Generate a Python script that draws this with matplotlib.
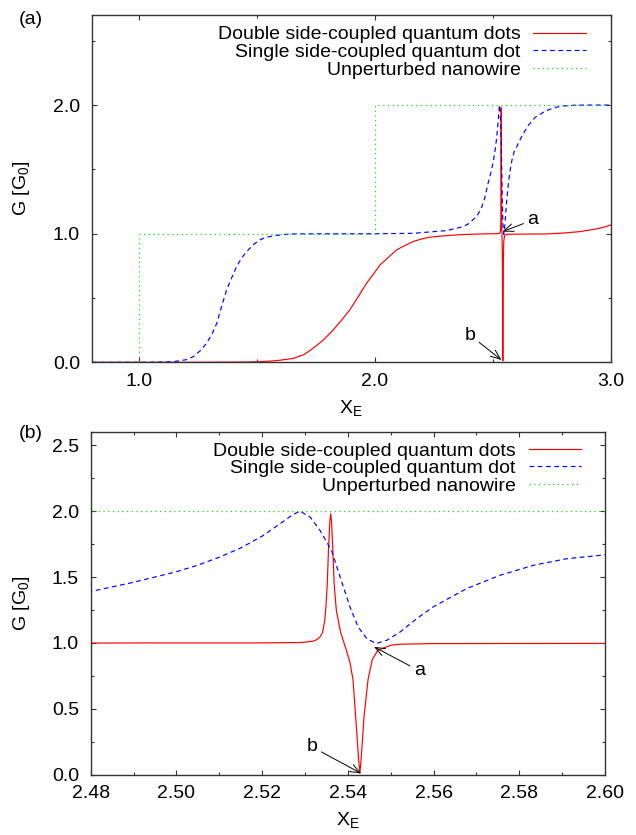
import matplotlib
matplotlib.use('Agg')
import matplotlib.pyplot as plt
from matplotlib.ticker import MultipleLocator, FormatStrFormatter

plt.rcParams['font.family'] = ['Liberation Sans', 'DejaVu Sans']
plt.rcParams['font.size'] = 14
plt.rcParams['mathtext.default'] = 'regular'

labels = ['Double side-coupled quantum dots',
          'Single side-coupled quantum dot',
          'Unperturbed nanowire']

# double side-coupled dots
double_x = [0.8, 1.20, 1.33, 1.45, 1.513, 1.58, 1.654, 1.70, 1.739, 1.78, 1.824, 1.86,
            1.894, 1.93, 1.965, 2.00, 2.022, 2.06, 2.092, 2.13, 2.163, 2.20, 2.233,
            2.304, 2.36, 2.417, 2.48, 2.50, 2.52, 2.5288, 2.5300, 2.5319, 2.5328,
            2.5335, 2.5341, 2.5346, 2.5349, 2.5352, 2.5355, 2.5358, 2.5360, 2.5362,
            2.5365, 2.5368, 2.5373, 2.5383, 2.5395, 2.5405, 2.5412, 2.5418, 2.5425,
            2.5428, 2.5431, 2.5438, 2.5447, 2.5457, 2.5470, 2.5500, 2.5522, 2.5599,
            2.60, 2.65, 2.728, 2.80, 2.869, 2.94, 2.97, 3.0]
double_g = [0.0, 0.0, 0.001, 0.002, 0.005, 0.012, 0.03, 0.06, 0.11, 0.17, 0.252, 0.33,
            0.408, 0.51, 0.615, 0.70, 0.757, 0.82, 0.874, 0.91, 0.939, 0.96, 0.973,
            0.985, 0.992, 0.996, 0.999, 1.0, 1.0, 1.003, 1.006, 1.013, 1.025,
            1.045, 1.08, 1.17, 1.28, 1.45, 1.727, 1.92, 1.98, 1.92,
            1.70, 1.45, 1.25, 1.08, 0.96, 0.85, 0.72, 0.45, 0.12,
            0.011, 0.12, 0.45, 0.72, 0.875, 0.945, 0.982, 0.990, 0.995,
            0.996, 0.997, 0.998, 1.005, 1.016, 1.037, 1.05, 1.068]

# single side-coupled dot
single_x = [0.8, 1.0, 1.047, 1.146, 1.20, 1.231, 1.26, 1.287, 1.31, 1.330, 1.35, 1.372,
            1.394, 1.414, 1.435, 1.457, 1.485, 1.513, 1.54, 1.570, 1.61, 1.654, 1.75,
            1.90, 2.022, 2.163, 2.304, 2.375, 2.40, 2.431, 2.45, 2.465, 2.48, 2.49,
            2.50, 2.505, 2.51, 2.515, 2.52, 2.524, 2.527, 2.5288, 2.5312, 2.5335,
            2.5362, 2.5382, 2.5405, 2.5424, 2.5444, 2.5466, 2.5491, 2.5522, 2.5561,
            2.5599, 2.5677, 2.5755, 2.5833, 2.5911, 2.5988, 2.61, 2.63, 2.65, 2.68,
            2.72, 2.76, 2.80, 2.85, 2.90, 3.0]
single_g = [0.0, 0.0, 0.0, 0.005, 0.02, 0.044, 0.09, 0.148, 0.22, 0.303, 0.43, 0.563,
            0.66, 0.744, 0.81, 0.861, 0.915, 0.952, 0.972, 0.983, 0.993, 0.998, 0.999,
            0.999, 1.0, 1.003, 1.024, 1.055, 1.08, 1.133, 1.19, 1.27, 1.39, 1.46,
            1.54, 1.59, 1.65, 1.72, 1.81, 1.90, 1.97, 2.0, 1.955, 1.854,
            1.70, 1.50, 1.273, 1.121, 1.033, 0.995, 1.020, 1.083, 1.185,
            1.273, 1.412, 1.513, 1.589, 1.639, 1.664, 1.71, 1.78, 1.84, 1.905,
            1.95, 1.98, 1.993, 1.999, 2.0, 2.0]

# unperturbed wire: steps
wire_x = [0.8, 1.0, 2.0, 3.0]
wire_g = [0, 1, 2, 3]


def draw(ax):
    ax.plot(double_x, double_g, color='#ff0000', lw=0.85, label=labels[0])
    ax.plot(single_x, single_g, color='#0000ff', lw=0.85, ls=(0, (4, 3)), label=labels[1])
    ax.plot(wire_x, wire_g, color='#00dd00', lw=0.85, ls=(0, (1, 3)),
            drawstyle='steps-post', label=labels[2])
    for s in ax.spines.values():
        s.set_color('#333333')
        s.set_linewidth(1.0)
    ax.tick_params(which='both', direction='in', top=True, right=True,
                   colors='#333333', labelcolor='black')
    ax.tick_params(which='major', length=3.6, width=0.8)
    ax.tick_params(which='minor', length=2.2, width=0.8)
    ax.tick_params(axis='x', pad=7.5)
    ax.tick_params(axis='y', pad=8.5)
    ax.set_xlabel('X$_E$', labelpad=6)
    ax.set_ylabel('G [G$_0$]')


fig = plt.figure(figsize=(6.36, 8.35), dpi=100)
ax1 = fig.add_axes([0.1442, 0.5661, 0.8160, 0.4159])
ax2 = fig.add_axes([0.1426, 0.0722, 0.8087, 0.4104])

draw(ax1)
ax1.set_xlim(0.8, 3.0)
ax1.set_ylim(0, 2.7)
ax1.xaxis.set_major_locator(MultipleLocator(1.0))
ax1.xaxis.set_minor_locator(MultipleLocator(0.5))
ax1.yaxis.set_major_locator(MultipleLocator(1.0))
ax1.yaxis.set_minor_locator(MultipleLocator(0.5))
ax1.xaxis.set_major_formatter(FormatStrFormatter('%.1f'))
ax1.yaxis.set_major_formatter(FormatStrFormatter('%.1f'))
ax1.yaxis.set_label_coords(-0.115, 0.5)
ax1.legend(loc='upper right', bbox_to_anchor=(0.9524, 0.9692), markerfirst=False,
           frameon=False, handlelength=2.7, handletextpad=0.65, labelspacing=0.0,
           borderpad=0, borderaxespad=0)

arrow = dict(arrowstyle='->,head_length=0.5,head_width=0.2', color='black',
             lw=0.7, shrinkA=1, shrinkB=0)
ax1.annotate('a', xy=(2.5415, 1.016), xytext=(2.671, 1.107),
             ha='center', va='center', arrowprops=arrow)
ax1.annotate('b', xy=(2.537, 0.018), xytext=(2.403, 0.212),
             ha='center', va='center', arrowprops=arrow)

draw(ax2)
ax2.set_xlim(2.48, 2.60)
ax2.set_ylim(0, 2.6)
ax2.xaxis.set_major_locator(MultipleLocator(0.02))
ax2.xaxis.set_minor_locator(MultipleLocator(0.01))
ax2.yaxis.set_major_locator(MultipleLocator(0.5))
ax2.yaxis.set_minor_locator(MultipleLocator(0.25))
ax2.xaxis.set_major_formatter(FormatStrFormatter('%.2f'))
ax2.yaxis.set_major_formatter(FormatStrFormatter('%.1f'))
ax2.yaxis.set_label_coords(-0.114, 0.5)
ax2.legend(loc='upper right', bbox_to_anchor=(0.9533, 0.9708), markerfirst=False,
           frameon=False, handlelength=2.7, handletextpad=0.65, labelspacing=0.0,
           borderpad=0, borderaxespad=0)
ax2.annotate('a', xy=(2.5461, 0.970), xytext=(2.5567, 0.788),
             ha='center', va='center', arrowprops=arrow)
ax2.annotate('b', xy=(2.5431, 0.01), xytext=(2.5316, 0.212),
             ha='center', va='center', arrowprops=arrow)

fig.text(31 / 636, 1 - 19 / 835, '(a)', ha='center', va='center')
fig.text(31 / 636, 1 - 434 / 835, '(b)', ha='center', va='center')

fig.savefig('out.png', dpi=100)
